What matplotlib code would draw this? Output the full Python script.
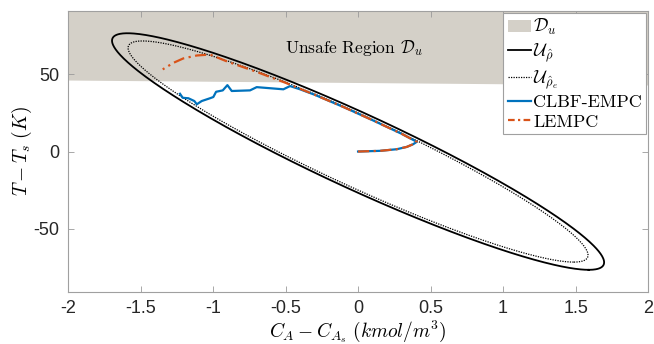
import numpy as np
import matplotlib
matplotlib.use("Agg")
import matplotlib.pyplot as plt
from matplotlib.patches import Patch
from matplotlib.lines import Line2D

plt.rcParams['mathtext.fontset'] = 'cm'
plt.rcParams['axes.unicode_minus'] = False

# ==== DADOS ====
# matriz da funcao de Lyapunov V(x) = x^T P x e niveis
P = np.array([[1060.0, 22.0], [22.0, 0.52]])
rho_hat = 372.0
rho_e = 325.0

# fronteira inferior da regiao insegura D_u
Du_x = [-2.0, 2.0]
Du_T = [46.3, 43.1]

# trajetoria LEMPC
lempc_x = [0.0, 0.152, 0.267, 0.336, 0.381, 0.405, 0.3, 0.1, -0.1, -0.3, -0.5,
           -0.7, -0.9, -1.021, -1.112, -1.205, -1.274, -1.347]
lempc_T = [0.0, 0.45, 1.5, 3.0, 4.8, 6.3, 11.5, 20.3, 28.8, 36.8, 44.5,
           51.6, 58.2, 62.8, 62.2, 60.3, 57.4, 53.2]

# trajetoria CLBF-EMPC
clbf_x = [0.0, 0.152, 0.267, 0.336, 0.381, 0.405, 0.3, 0.1, -0.1, -0.3, -0.40,
          -0.469, -0.515, -0.699, -0.745, -0.871, -0.901, -0.933, -0.979, -0.998,
          -1.021, -1.078, -1.112, -1.129, -1.170, -1.209, -1.228]
clbf_T = [0.0, 0.45, 1.5, 3.0, 4.8, 6.3, 11.5, 20.3, 28.8, 36.8, 40.3,
          42.4, 40.3, 41.7, 39.6, 39.2, 43.0, 39.6, 38.7, 35.3,
          34.5, 32.7, 30.6, 32.7, 34.5, 34.8, 37.4]

xticks = [-2, -1.5, -1, -0.5, 0, 0.5, 1, 1.5, 2]
yticks = [-50, 0, 50]

cor_Du = '#D4D0C8'
cor_azul = '#0072BD'
cor_laranja = '#D95319'


def elipse(P, rho, n=600):
    # curva de nivel x^T P x = rho
    w, v = np.linalg.eigh(P)
    t = np.linspace(0, 2 * np.pi, n)
    pts = v @ np.vstack([np.sqrt(rho / w[0]) * np.cos(t), np.sqrt(rho / w[1]) * np.sin(t)])
    return pts[0], pts[1]


# ==== PLOTAGEM ====
fig = plt.figure(figsize=(6.54, 3.44), dpi=100)
ax = fig.add_axes([0.104, 0.151, 0.887, 0.817])

ylim = (-91, 91)
ax.fill_between(Du_x, Du_T, [ylim[1]] * 2, color=cor_Du, lw=0, zorder=1)

ex, ey = elipse(P, rho_hat)
ax.plot(ex, ey, color='k', lw=1.3, zorder=3)
ex2, ey2 = elipse(P, rho_e)
ax.plot(ex2, ey2, color='k', lw=0.9, ls=(0, (1, 1)), zorder=3)

ax.plot(clbf_x, clbf_T, color=cor_azul, lw=1.6, zorder=4)
ax.plot(lempc_x, lempc_T, color=cor_laranja, lw=1.6, ls=(0, (5, 2, 1, 2)), zorder=5)

ax.text(-0.03, 67, r'Unsafe Region $\mathcal{D}_u$', fontfamily='cmr10', fontsize=12.5,
        ha='center', va='center', zorder=6)

ax.set_xlim(-2, 2)
ax.set_ylim(*ylim)
ax.set_xticks(xticks)
ax.set_xticklabels([('%g' % v) for v in xticks])
ax.set_yticks(yticks)
ax.set_yticklabels([('%g' % v) for v in yticks])
ax.tick_params(direction='in', length=4, width=0.6, color='#9a9a9a', top=True, right=True,
               labelsize=13, labelcolor='#262626', pad=6)
for lab in ax.get_xticklabels() + ax.get_yticklabels():
    lab.set_fontfamily('Liberation Sans')
for s in ax.spines.values():
    s.set_color('#a0a0a0')
    s.set_linewidth(0.8)

ax.set_xlabel(r'$C_A - C_{A_s}\ (kmol/m^3)$', fontsize=14, labelpad=1)
ax.set_ylabel(r'$T - T_s\ (K)$', fontsize=14, labelpad=0)

handles = [Patch(facecolor=cor_Du, edgecolor='none'),
           Line2D([], [], color='k', lw=1.3),
           Line2D([], [], color='k', lw=0.9, ls=(0, (1, 1))),
           Line2D([], [], color=cor_azul, lw=1.6),
           Line2D([], [], color=cor_laranja, lw=1.6, ls=(0, (3, 1.5, 1, 1.5)))]
labels = [r'$\mathcal{D}_u$', r'$\mathcal{U}_{\hat{\rho}}$', r'$\mathcal{U}_{\hat{\rho}_e}$',
          'CLBF-EMPC', 'LEMPC']
leg = ax.legend(handles, labels, loc='upper right', prop={'family': 'cmr10', 'size': 13},
                handlelength=1.3, handletextpad=0.1, labelspacing=0.22, borderpad=0.25,
                borderaxespad=0.1, fancybox=False, framealpha=1, edgecolor='#a0a0a0')
leg.get_frame().set_linewidth(0.8)
leg.set_zorder(10)

fig.savefig('out.png', dpi=100)
